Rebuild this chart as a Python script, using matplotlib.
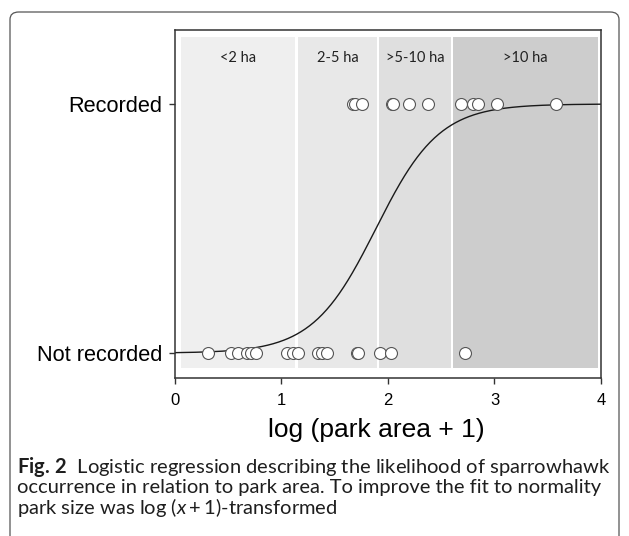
import numpy as np
import matplotlib
matplotlib.use("Agg")
import matplotlib.pyplot as plt
from matplotlib.patches import FancyBboxPatch, Rectangle

# ---------------- data ----------------
recorded_x = [1.671, 1.690, 1.759, 2.040, 2.047, 2.197, 2.373, 2.683, 2.801, 2.842, 3.021, 3.577]
not_recorded_x = [0.313, 0.523, 0.594, 0.673, 0.714, 0.761, 1.049, 1.111, 1.158,
                  1.346, 1.377, 1.424, 1.712, 1.718, 1.925, 2.025, 2.723]
# logistic regression coefficients
intercept = -6.34
slope = 3.36
band_labels = ["<2 ha", "2-5 ha", ">5-10 ha", ">10 ha"]
band_left = [0.056, 1.155, 1.915, 2.610]
band_right = [1.127, 1.897, 2.590, 3.970]
band_colors = ["#efefef", "#e8e8e8", "#dfdfdf", "#cdcdcd"]
y_labels = ["Not recorded", "Recorded"]
x_ticks = [0, 1, 2, 3, 4]

W, H = 629, 536
plt.rcParams["mathtext.fontset"] = "custom"
plt.rcParams["mathtext.rm"] = "Lato"
plt.rcParams["mathtext.it"] = "Lato:italic"
plt.rcParams["mathtext.bf"] = "Lato:bold"

fig = plt.figure(figsize=(W / 100, H / 100), dpi=100)

# outer rounded frame
frame = FancyBboxPatch((10 / W, 1 - 545 / H), (619 - 10) / W, (545 - 12) / H,
                       boxstyle="round,pad=0,rounding_size=0.014",
                       transform=fig.transFigure, fill=False,
                       edgecolor="#555555", linewidth=0.9)
fig.patches.append(frame)

ax = fig.add_axes([175 / W, 1 - 378 / H, (601 - 175) / W, (378 - 30) / H])
ax.set_xlim(0, 4)
ax.set_ylim(-0.1, 1.297)

for l, r, c in zip(band_left, band_right, band_colors):
    ax.add_patch(Rectangle((l, -0.06), r - l, 1.27 + 0.06, facecolor=c,
                           edgecolor="none", zorder=0))
for l, r, lab in zip(band_left, band_right, band_labels):
    ax.text((l + r) / 2, 1.185, lab, ha="center", va="center",
            fontsize=10.5, family="Lato", color="#222222")

xs = np.linspace(0, 4, 400)
ax.plot(xs, 1 / (1 + np.exp(-(intercept + slope * xs))), color="#1a1a1a",
        linewidth=1.0, zorder=2)

ax.plot(recorded_x, [1] * len(recorded_x), "o", markersize=8.6,
        markerfacecolor="white", markeredgecolor="#555555", markeredgewidth=0.8, zorder=3)
ax.plot(not_recorded_x, [0] * len(not_recorded_x), "o", markersize=8.6,
        markerfacecolor="white", markeredgecolor="#555555", markeredgewidth=0.8, zorder=3)

ax.set_xticks(x_ticks)
ax.set_xticklabels([str(t) for t in x_ticks], fontsize=12, family="Liberation Sans")
ax.set_yticks([0, 1])
ax.set_yticklabels(y_labels, fontsize=15.7, family="Liberation Sans")
ax.tick_params(axis="both", length=4, width=1.0, color="#333333", pad=5)
ax.tick_params(axis="x", pad=6.5)
for s in ax.spines.values():
    s.set_color("#333333")
    s.set_linewidth(1.1)

fig.text(376 / W, 1 - 437 / H, "log (park area + 1)", ha="center", va="baseline",
         fontsize=19, family="Liberation Sans")

cap_kw = dict(ha="left", va="baseline", fontsize=14.5, family="Lato", color="#1e1e1e")
fig.text(17 / W, 1 - 473 / H,
         r"$\mathbf{Fig.\,2}$  Logistic regression describing the likelihood of sparrowhawk",
         **cap_kw)
fig.text(17 / W, 1 - 493.5 / H,
         "occurrence in relation to park area. To improve the fit to normality", **cap_kw)
fig.text(17 / W, 1 - 514 / H, r"park size was log ($x+1$)-transformed", **cap_kw)

fig.savefig("out.png", dpi=100)
